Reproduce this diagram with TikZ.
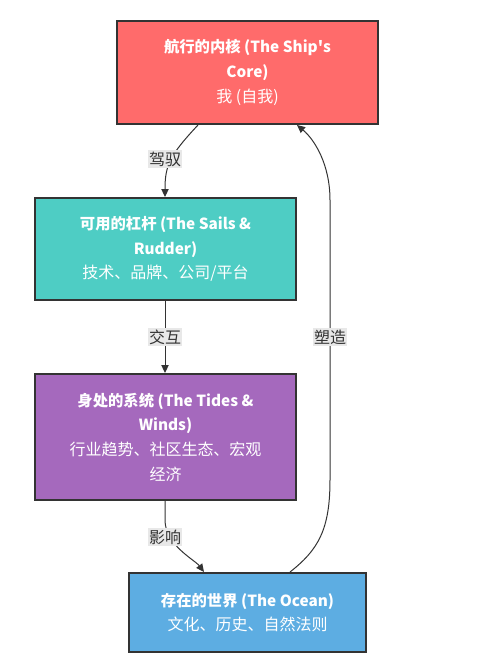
\documentclass[tikz,border=0pt]{standalone}
\usepackage{fontspec}
\setmainfont{Noto Sans CJK SC}
\usetikzlibrary{arrows.meta,calc}
\definecolor{cred}{HTML}{FF6B6B}
\definecolor{cteal}{HTML}{4ECDC4}
\definecolor{cpurple}{HTML}{A569BD}
\definecolor{cblue}{HTML}{5DADE2}
\definecolor{cborder}{HTML}{333333}
\definecolor{clabel}{HTML}{E8E8E8}
\newcommand{\bt}[1]{{\fontsize{11.5pt}{18.5pt}\selectfont\bfseries #1}}
\tikzset{
  box/.style={draw=cborder, line width=1.5pt, text=white, align=center,
    font=\fontsize{12pt}{18.5pt}\selectfont, inner sep=2pt},
  edge/.style={draw=cborder, line width=0.75pt, -{Triangle[length=6pt,width=5.5pt]}},
  elabel/.style={fill=clabel, text=cborder, inner sep=1pt, font=\fontsize{12pt}{13pt}\selectfont}
}
\begin{document}
\begin{tikzpicture}[x=0.75pt,y=-0.75pt]
\useasboundingbox (0,0) rectangle (480,665);
\node[box, fill=cred, minimum width=195.75pt, minimum height=77.25pt] (b1) at (247.5,72.5)
  {\bt{航行的内核 (The Ship\textquotesingle s}\\\bt{Core)}\\我 (自我)};
\node[box, fill=cteal, minimum width=195.75pt, minimum height=76.5pt] (b2) at (165.5,249)
  {\bt{可用的杠杆 (The Sails \&}\\\bt{Rudder)}\\技术、品牌、公司/平台};
\node[box, fill=cpurple, minimum width=195.75pt, minimum height=94.5pt] (b3) at (165.5,437)
  {\bt{身处的系统 (The Tides \&}\\\bt{Winds)}\\行业趋势、社区生态、宏观\\经济};
\node[box, fill=cblue, minimum width=177.75pt, minimum height=59.25pt] (b4) at (247.5,612.5)
  {\bt{存在的世界 (The Ocean)}\\文化、历史、自然法则};

\coordinate (s1) at ($(b1.south)+(-49.5,0)$);
\coordinate (e1) at ($(b2.north)+(-0.5,0)$);
\draw[edge] (s1) .. controls (170,155) and (165,165) .. (e1);
\node[elabel] (l1) at (165,159) {驾驭};

\coordinate (s2) at ($(b2.south)+(-0.5,0)$);
\coordinate (e2) at ($(b3.north)+(-0.5,0)$);
\draw[edge] (s2) -- (e2);
\node[elabel] (l2) at (165,337) {交互};

\coordinate (s3) at ($(b3.south)+(-0.5,0)$);
\coordinate (e3) at ($(b4.north)+(-43.5,0)$);
\draw[edge] (s3) -- (165,520) .. controls (165,545) and (195,560) .. (e3);
\node[elabel] (l3) at (165,537) {影响};

\coordinate (s4) at ($(b4.north)+(42.5,0)$);
\coordinate (e4) at ($(b1.south)+(49.5,0)$);
\draw[edge] (s4) .. controls (318,550) and (330,530) .. (330,480) -- (330,200) .. controls (330,165) and (315,140) .. (e4);
\node[elabel] (l4) at (330,337) {塑造};
\end{tikzpicture}
\end{document}
